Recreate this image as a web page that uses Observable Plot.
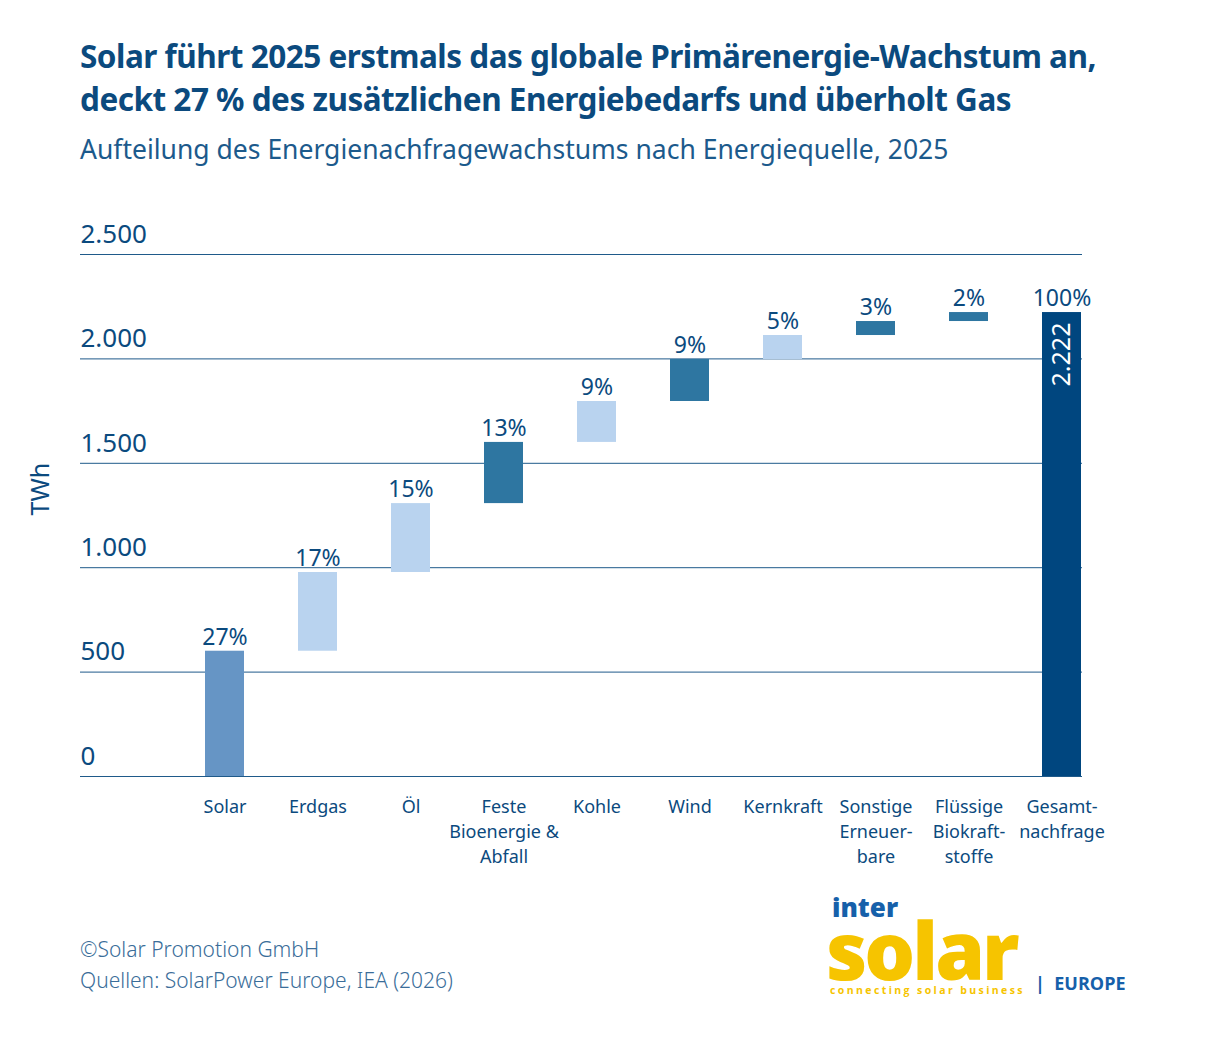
<!DOCTYPE html>
<html><head><meta charset="utf-8">
<script src="https://cdn.jsdelivr.net/npm/d3@7"></script>
<script src="https://cdn.jsdelivr.net/npm/@observablehq/plot@0.6"></script>
<style>
body{margin:0;background:#fff;font-family:"Noto Sans",sans-serif;width:1206px;height:1046px;position:relative;overflow:hidden;color:#0b4a7e}
#t{position:absolute;left:80px;top:34px;font-size:31.5px;font-weight:700;line-height:43px;color:#0b4a7e;letter-spacing:-0.5px}
#s{position:absolute;left:80px;top:131px;font-size:26.5px;color:#1c5a8c}
#c{position:absolute;left:80px;top:934px;font-size:21px;line-height:31px;color:#3a6d99;font-weight:300}
#chart{position:absolute;left:0;top:200px}
#logo{position:absolute;left:830px;top:897px;color:#f6c400;font-family:"Open Sans",sans-serif}
</style></head><body>
<div id="t">Solar führt 2025 erstmals das globale Primärenergie-Wachstum an,<br>deckt 27 % des zusätzlichen Energiebedarfs und überholt Gas</div>
<div id="s">Aufteilung des Energienachfragewachstums nach Energiequelle, 2025</div>
<div id="chart"></div>
<div id="c">©Solar Promotion GmbH<br>Quellen: SolarPower Europe, IEA (2026)</div>
<div id="logo">
<div style="position:absolute;left:2px;top:-3px;font-size:26px;font-weight:800;color:#1660aa;line-height:26px">inter</div>
<div style="position:absolute;left:-4px;top:27px;font-size:80px;font-weight:800;letter-spacing:-3px;line-height:50px;height:50px">solar</div>
<div style="position:absolute;left:0;top:87px;font-size:10.5px;line-height:12px;font-weight:700;letter-spacing:2.4px;white-space:nowrap">connecting solar business</div>
<div style="position:absolute;left:205px;top:76px;font-size:18px;line-height:20px;font-weight:700;color:#1660aa;white-space:nowrap">|&nbsp;&nbsp;EUROPE</div>
</div>
<script>
const categories=["Solar","Erdgas","Öl","Feste\nBioenergie &\nAbfall","Kohle","Wind","Kernkraft","Sonstige\nErneuer-\nbare","Flüssige\nBiokraft-\nstoffe","Gesamt-\nnachfrage"];
const starts=[0,600,977,1307,1600,1796,1997,2112,2179,0];
const ends=[600,977,1307,1600,1796,1997,2112,2179,2222,2222];
const pcts=["27%","17%","15%","13%","9%","9%","5%","3%","2%","100%"];
const colors=["#6695c5","#b9d3ef","#b9d3ef","#2e76a1","#b9d3ef","#2e76a1","#b9d3ef","#2e76a1","#2e76a1","#00467f"];
const yTicks=[0,500,1000,1500,2000,2500];
const yTickLabels=["0","500","1.000","1.500","2.000","2.500"];
const data=categories.map((c,i)=>({c,s:starts[i],e:ends[i],p:pcts[i],col:colors[i]}));
const ink="#0b4a7e";
const plot=Plot.plot({
 width:1206,height:680,marginTop:54,marginBottom:104,marginLeft:80,marginRight:124,
 style:{fontFamily:"Noto Sans, sans-serif",color:ink,overflow:"visible"},
 x:{domain:categories,range:[203,1083],paddingInner:0.58,paddingOuter:0,axis:null},
 y:{domain:[0,2500],axis:null},
 marks:[
  Plot.ruleY(yTicks,{stroke:"#1f5a8a",strokeWidth:1}),
  Plot.text(yTicks,{y:d=>d,text:(d,i)=>yTickLabels[i],frameAnchor:"left",dy:-20,textAnchor:"start",fontSize:26,fill:ink}),
  Plot.barY(data,{x:"c",y1:"s",y2:"e",fill:"col"}),
  Plot.text(data,{x:"c",y:"e",text:"p",dy:-14,fontSize:23,fill:ink}),
  Plot.text(data.slice(9),{x:"c",y:"e",text:d=>d3.format(",")(d.e).replace(",","."),rotate:-90,textAnchor:"end",dy:10,fontSize:25,fill:"#fff",lineAnchor:"middle"}),
  Plot.text(data,{x:"c",y:0,text:"c",lineAnchor:"top",dy:19,fontSize:18,lineHeight:1.38,fill:ink}),
  Plot.text(["TWh"],{frameAnchor:"left",dx:-40,rotate:-90,fontSize:25,fill:ink})
 ]
});
document.getElementById("chart").append(plot);
</script></body></html>
